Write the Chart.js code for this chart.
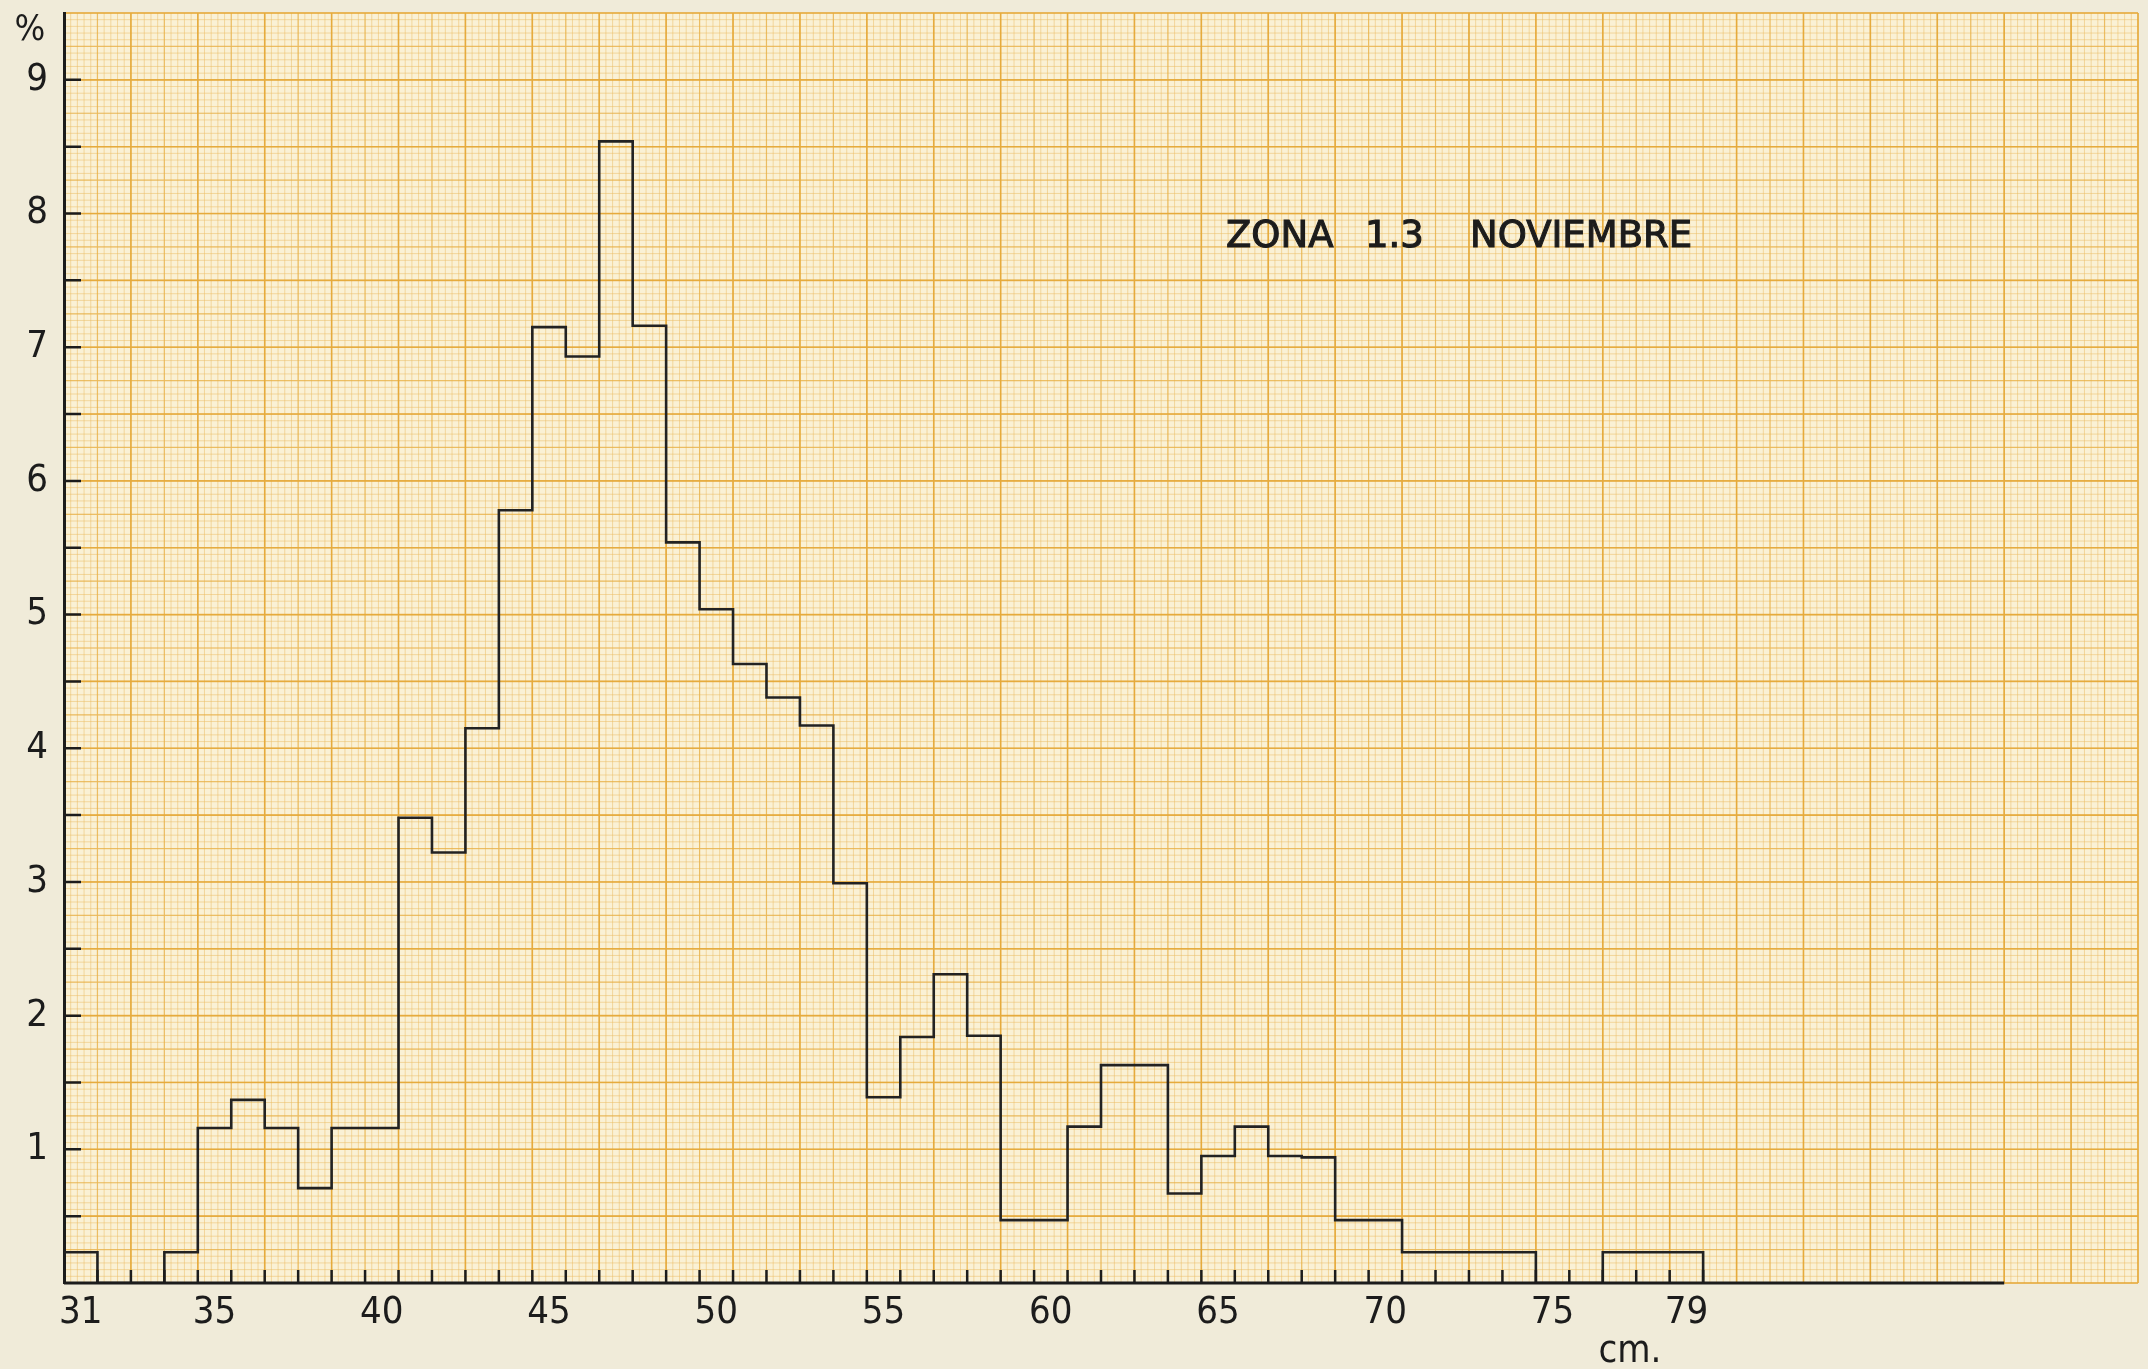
<!DOCTYPE html>
<html>
<head>
<meta charset="utf-8">
<script src="https://cdn.jsdelivr.net/npm/chart.js@4.4.1/dist/chart.umd.min.js"></script>
<style>
  html, body { margin: 0; padding: 0; background: #efe9d6; }
  #wrap { width: 2148px; height: 1369px; position: relative; }
  canvas { display: block; }
</style>
</head>
<body>
<div id="wrap"><canvas id="c" width="2148" height="1369"></canvas></div>
<script>
// ---- data ----
const lengthsCm = [31,32,33,34,35,36,37,38,39,40,41,42,43,44,45,46,47,48,49,50,
                   51,52,53,54,55,56,57,58,59,60,61,62,63,64,65,66,67,68,69,70,
                   71,72,73,74,75,76,77,78,79];
const percentValues = [0.23,0,0,0.23,1.16,1.37,1.16,0.71,1.16,1.16,
                       3.48,3.22,4.15,5.78,7.15,6.93,8.54,7.16,5.54,5.04,
                       4.63,4.38,4.17,2.99,1.39,1.84,2.31,1.85,0.47,0.47,
                       1.17,1.63,1.63,0.67,0.95,1.17,0.95,0.94,0.47,0.47,
                       0.23,0.23,0.23,0.23,0,0,0.23,0.23,0.23];
const xTickLabels = [31,35,40,45,50,55,60,65,70,75,79];
const yTickLabels = [1,2,3,4,5,6,7,8,9];
const titleParts = ['ZONA', '1.3', 'NOVIEMBRE'];
const yUnitLabel = '%';
const xUnitLabel = 'cm.';

// ---- build step outline points from the arrays ----
const stepPoints = lengthsCm.map((c, i) => ({ x: c - 0.5, y: percentValues[i] }));
stepPoints.push({ x: lengthsCm[lengthsCm.length - 1] + 0.5, y: 0 });

const FONT = "'DejaVu Sans Condensed', 'DejaVu Sans', 'Liberation Sans', sans-serif";
const TFONT = "'DejaVu Sans', 'Liberation Sans', sans-serif";
const INK = '#1c1c1c';

const paperPlugin = {
  id: 'paper',
  beforeDraw(chart) {
    const { ctx, chartArea: a, scales: { x, y } } = chart;
    ctx.save();
    ctx.fillStyle = '#f0ebd9';
    ctx.fillRect(0, 0, chart.width, chart.height);
    ctx.fillStyle = '#faf1d5';
    ctx.fillRect(a.left, a.top, a.right - a.left, a.bottom - a.top);
    const layers = [
      { dx: 0.2, dy: 0.05, color: 'rgba(236,188,98,0.50)', w: 1 },
      { dx: 1,   dy: 0.25, color: 'rgba(230,172,62,0.62)', w: 1.2 },
      { dx: 2,   dy: 0.5,  color: 'rgba(228,165,50,0.78)', w: 1.6 }
    ];
    for (const L of layers) {
      ctx.strokeStyle = L.color;
      ctx.lineWidth = L.w;
      ctx.beginPath();
      const nx = Math.round((x.max - x.min) / L.dx);
      for (let k = 0; k <= nx; k++) {
        const px = x.getPixelForValue(x.min + k * L.dx);
        ctx.moveTo(px, a.top); ctx.lineTo(px, a.bottom);
      }
      const ny = Math.round((y.max - y.min) / L.dy);
      for (let k = 0; k <= ny; k++) {
        const py = y.getPixelForValue(y.min + k * L.dy);
        ctx.moveTo(a.left, py); ctx.lineTo(a.right, py);
      }
      ctx.stroke();
    }
    ctx.restore();
  }
};

const axesPlugin = {
  id: 'axesMarks',
  afterDatasetsDraw(chart) {
    const { ctx, chartArea: a, scales: { x, y } } = chart;
    ctx.save();
    ctx.strokeStyle = INK;
    ctx.lineCap = 'butt';
    ctx.lineWidth = 3;
    const y0 = y.getPixelForValue(0);
    ctx.beginPath();
    ctx.moveTo(x.getPixelForValue(x.min), y0);
    ctx.lineTo(x.getPixelForValue(88.5), y0);
    ctx.stroke();
    ctx.lineWidth = 2.5;
    ctx.beginPath();
    for (let v = 0.5; v <= 9.0001; v += 0.5) {
      const py = y.getPixelForValue(v);
      ctx.moveTo(a.left, py); ctx.lineTo(a.left + 17, py);
    }
    for (let i = 0; i < lengthsCm.length; i++) {
      const px = x.getPixelForValue(lengthsCm[i] + 0.5);
      ctx.moveTo(px, y0); ctx.lineTo(px, y0 - 13);
    }
    ctx.stroke();
    ctx.restore();
  }
};

const textPlugin = {
  id: 'texts',
  afterDraw(chart) {
    const { ctx } = chart;
    ctx.save();
    ctx.fillStyle = INK;
    ctx.strokeStyle = INK;
    ctx.lineWidth = 1.1;
    ctx.textBaseline = 'alphabetic';
    ctx.textAlign = 'left';
    ctx.font = '37px ' + TFONT;
    const tx = [1226, 1365, 1470];
    titleParts.forEach((t, i) => { ctx.fillText(t, tx[i], 247); ctx.strokeText(t, tx[i], 247); });
    ctx.textAlign = 'center';
    ctx.font = '36px ' + FONT;
    ctx.fillText(yUnitLabel, 30, 40);
    ctx.font = '38px ' + FONT;
    ctx.fillText(xUnitLabel, 1630, 1362);
    ctx.restore();
  }
};

new Chart(document.getElementById('c'), {
  type: 'line',
  data: {
    datasets: [{
      data: stepPoints,
      stepped: true,
      borderColor: '#222222',
      borderWidth: 2.6,
      pointRadius: 0,
      fill: false,
      tension: 0
    }]
  },
  options: {
    responsive: false,
    maintainAspectRatio: false,
    animation: false,
    devicePixelRatio: 1,
    layout: { padding: { top: 13, right: 10, left: 0, bottom: 0 } },
    plugins: { legend: { display: false }, tooltip: { enabled: false }, title: { display: false } },
    scales: {
      x: {
        type: 'linear',
        min: 30.5,
        max: 92.5,
        grid: { display: false, drawTicks: false },
        border: { display: false },
        afterBuildTicks: s => { s.ticks = xTickLabels.map(v => ({ value: v })); },
        afterFit: s => { s.height = 86; s.paddingLeft = 0; s.paddingRight = 0; },
        ticks: {
          autoSkip: false,
          maxRotation: 0,
          padding: 7,
          color: INK,
          font: { family: FONT, size: 38 },
          callback: v => String(v)
        }
      },
      y: {
        type: 'linear',
        min: 0,
        max: 9.5,
        grid: { display: false, drawTicks: false },
        border: { display: true, color: INK, width: 3 },
        afterBuildTicks: s => { s.ticks = yTickLabels.map(v => ({ value: v })); },
        afterFit: s => { s.width = 64; s.paddingTop = 0; s.paddingBottom = 0; },
        ticks: {
          padding: 16,
          color: INK,
          font: { family: FONT, size: 38 },
          callback: v => String(v)
        }
      }
    }
  },
  plugins: [paperPlugin, axesPlugin, textPlugin]
});
</script>
</body>
</html>
